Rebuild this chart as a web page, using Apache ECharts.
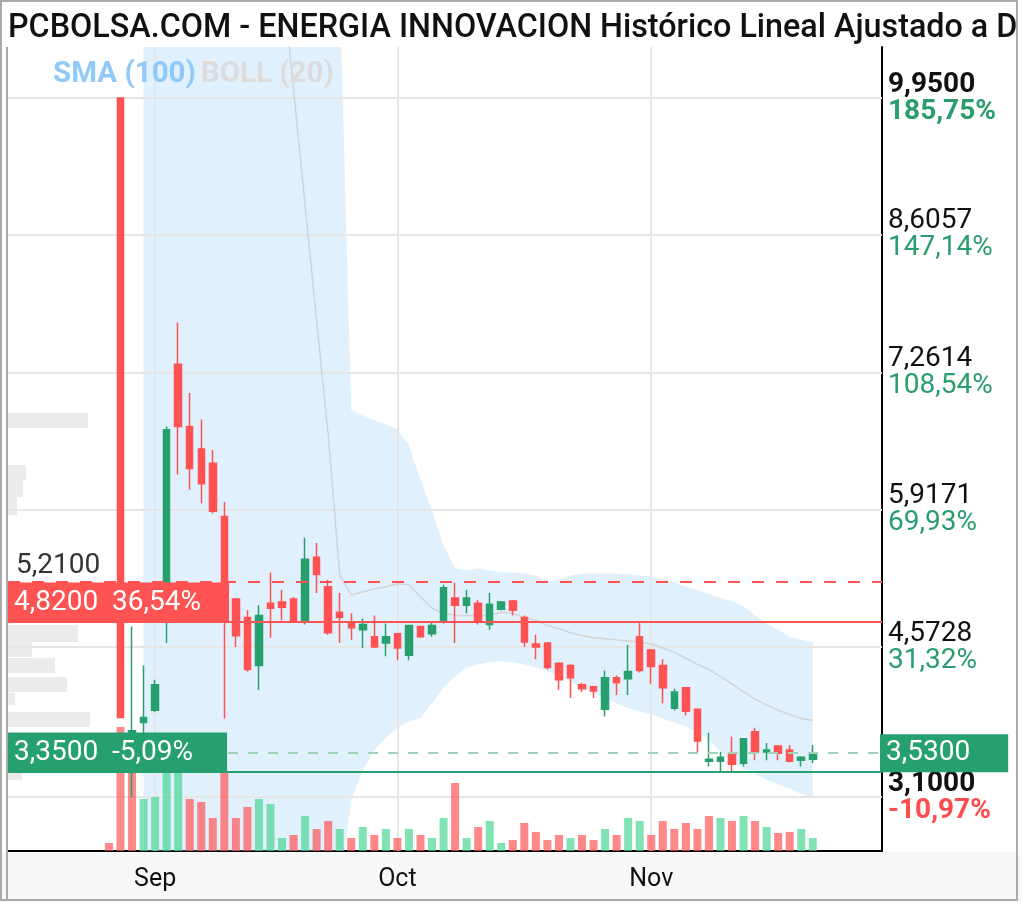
<!DOCTYPE html>
<html><head><meta charset="utf-8">
<script src="https://cdn.jsdelivr.net/npm/echarts@6/dist/echarts.min.js"></script>
<style>html,body{margin:0;padding:0;background:#fff}#c{width:1022px;height:904px}</style>
</head><body><div id="c"></div><script>
// ---------- DATA ----------
const dates = ['2023-08-28','2023-08-29','2023-08-30','2023-08-31','2023-09-01',
 '2023-09-04','2023-09-05','2023-09-06','2023-09-07','2023-09-08',
 '2023-09-11','2023-09-12','2023-09-13','2023-09-14','2023-09-15',
 '2023-09-18','2023-09-19','2023-09-20','2023-09-21','2023-09-22',
 '2023-09-25','2023-09-26','2023-09-27','2023-09-28','2023-09-29',
 '2023-10-02','2023-10-03','2023-10-04','2023-10-05','2023-10-06',
 '2023-10-09','2023-10-10','2023-10-11','2023-10-12','2023-10-13',
 '2023-10-16','2023-10-17','2023-10-18','2023-10-19','2023-10-20',
 '2023-10-23','2023-10-24','2023-10-25','2023-10-26','2023-10-27',
 '2023-10-30','2023-10-31','2023-11-01','2023-11-02','2023-11-03',
 '2023-11-06','2023-11-07','2023-11-08','2023-11-09','2023-11-10',
 '2023-11-13','2023-11-14','2023-11-15','2023-11-16','2023-11-17',
 '2023-11-20','2023-11-21'];
const openP  = [5.21,9.95,3.69,3.83,3.95, 4.90,7.34,6.73,6.51,6.37, 5.85,5.04,4.86,4.39,5.00, 5.01,5.04,4.83,5.45,5.16,
 4.91,4.80,4.74,4.67,4.61, 4.70,4.49,4.77,4.70,4.83, 5.05,4.98,5.00,4.79,4.94, 5.02,4.86,4.60,4.61,4.41,
 4.39,4.20,4.18,3.96,4.27, 4.26,4.67,4.54,4.39,3.97, 4.17,3.96,3.45,3.45,3.52, 3.43,3.74,3.54,3.60,3.56, 3.46,3.47];
const closeP = [4.82,3.88,3.75,3.88,4.20, 6.70,6.73,6.32,6.17,5.90, 4.93,4.68,4.35,4.88,4.95, 4.96,4.83,5.43,5.28,4.71,
 4.86,4.76,4.79,4.57,4.67, 4.56,4.78,4.67,4.78,5.15, 4.98,5.05,4.82,4.99,5.01, 4.93,4.62,4.57,4.37,4.25,
 4.27,4.16,4.14,4.27,4.22, 4.33,4.34,4.38,4.17,4.13, 3.94,3.65,3.47,3.49,3.42, 3.67,3.54,3.56,3.53,3.45, 3.49,3.53];
const lowP   = [4.82,3.88,3.10,3.71,3.93, 4.61,6.26,6.11,5.98,5.88, 3.87,4.57,4.33,4.15,4.66, 4.83,4.83,4.79,5.10,4.69,
 4.61,4.64,4.56,4.56,4.48, 4.44,4.44,4.66,4.67,4.80, 4.61,4.90,4.79,4.74,4.93, 4.88,4.57,4.45,4.35,4.15,
 4.07,4.13,4.07,3.89,4.10, 4.10,4.32,4.21,4.02,3.95, 3.90,3.54,3.40,3.34,3.35, 3.40,3.46,3.46,3.46,3.44, 3.40,3.43];
const highP  = [5.21,9.95,4.77,4.39,4.25, 6.73,7.75,7.06,6.80,6.50, 5.99,5.05,4.93,4.98,5.30, 5.13,5.06,5.64,5.59,5.23,
 5.10,4.90,4.85,4.88,4.80, 4.71,4.78,4.77,4.81,5.18, 5.20,5.13,5.03,5.10,5.02, 5.03,4.88,4.69,4.62,4.42,
 4.40,4.22,4.19,4.34,4.29, 4.59,4.82,4.55,4.45,4.16, 4.17,3.97,3.73,3.54,3.69, 3.67,3.78,3.63,3.61,3.61, 3.50,3.61];
// volume (thousands)
const volume = [8,124,91,52,54, 106,106,52,49,33, 79,33,44,52,47, 13,16,35,22,30,
 22,13,24,16,22, 13,22,16,13,33, 68,13,24,30,8, 11,28,19,11,16,
 13,16,11,22,16, 33,30,16,30,22, 28,22,35,33,30, 35,30,24,18,19, 22,13];
const volUp = [0,0,0,1,1, 1,1,0,0,0, 0,0,0,1,1, 1,0,1,0,0,
 1,0,1,0,1, 0,1,0,1,1, 0,1,0,1,1, 0,0,0,0,0,
 1,0,0,1,0, 1,1,0,0,0, 0,0,0,1,0, 1,0,1,0,0, 1,1];
// Bollinger (20)
const bollUpper = [null,null,null,12.5,13.5, 14.5,15.0,15.2,15.2,15.0, 14.8,14.6,14.4,14.2,14.0, 13.8,13.4,12.8,12.2,11.6,
 11.0,6.89,6.84,6.79,6.75, 6.70,6.55,6.21,5.91,5.57, 5.34,5.32,5.34,5.32,5.30, 5.30,5.29,5.27,5.21,5.23,
 5.27,5.29,5.29,5.29,5.29, 5.28,5.27,5.26,5.24,5.21, 5.16,5.13,5.09,5.05,5.02, 4.97,4.88,4.80,4.74,4.67, 4.64,4.62];
const bollMid = [null,null,null,null,null, null,null,null,null,null, null,null,null,null,null, 11.2,10.03,8.90,7.77,6.65,
 5.275,5.08,5.11,5.14,5.16, 5.19,5.18,5.06,4.95,4.90, 4.88,4.88,4.88,4.88,4.91, 4.90,4.86,4.83,4.78,4.75,
 4.71,4.68,4.66,4.65,4.64, 4.63,4.62,4.60,4.56,4.52, 4.46,4.40,4.35,4.28,4.21, 4.13,4.06,4.00,3.95,3.91, 3.87,3.85];
const bollLower = [null,null,null,1.0,1.0, 1.0,1.0,1.0,1.0,1.0, 1.0,1.0,1.0,1.0,1.0, 1.0,1.0,1.0,1.0,1.0,
 2.2,3.07,3.36,3.56,3.68, 3.78,3.84,3.87,4.02,4.17, 4.28,4.37,4.40,4.42,4.43, 4.42,4.40,4.37,4.33,4.29,
 4.23,4.17,4.12,4.06,4.02, 3.97,3.94,3.91,3.87,3.83, 3.79,3.74,3.66,3.54,3.44, 3.37,3.33,3.27,3.22,3.18, 3.13,3.10];
// volume-at-price profile
const profLow  = [6.716,6.206,6.040,5.863,4.619,4.472,4.315,4.129,4.000,3.786,3.266];
const profHigh = [6.863,6.353,6.206,6.040,4.786,4.619,4.462,4.276,4.120,3.933,3.335];
const profVol  = [80,18,15,9,70,24,47,59,7,82,14];
// axis ticks
const yTicks = [9.95,8.6057,7.2614,5.9171,4.5728,3.1];
const yTickLabels = ['9,9500','8,6057','7,2614','5,9171','4,5728','3,1000'];
const yTickPct = ['185,75%','147,14%','108,54%','69,93%','31,32%','-10,97%'];
const monthStarts = ['2023-09-01','2023-10-02','2023-11-01'];
const monthLabels = ['Sep','Oct','Nov'];
// price levels
const levelPrices = [5.21, 4.82, 3.53, 3.35];
const levelTexts  = ['5,2100', '4,8200  36,54%', '3,5300', '3,3500  -5,09%'];

// ---------- STYLE ----------
const UP = '#26a06e', DOWN = '#ff5252';
const FONT = 'Roboto';

const candleData = dates.map((d,i)=>[i, openP[i], closeP[i], lowP[i], highP[i]]);
const volData = volume.map((v,i)=>({value:[i,v], itemStyle:{color: volUp[i] ? 'rgba(70,214,145,0.68)' : 'rgba(255,80,80,0.68)'}}));
const midData=[];
dates.forEach((d,i)=>{ if (bollMid[i]!=null) midData.push([i,bollMid[i]]); });
const bandData = [];
dates.forEach((d,i)=>{ if (bollUpper[i]!=null) bandData.push([i, bollLower[i], bollUpper[i]]); });
const monthIdx = monthStarts.map(m=>dates.indexOf(m));

const tickLine = yTicks.map((v,i)=>{
  const bold = (i===0 || i===yTicks.length-1);
  const pctKey = yTickPct[i].startsWith('-') ? 'r' : 'g';
  return {yAxis:v, label:{show:true, position:'end', distance:6,
    formatter: '{'+(bold?'pb':'p')+'|'+yTickLabels[i]+'}\n{'+pctKey+(bold?'b':'')+'|'+yTickPct[i]+'}',
    rich:{
      p:{color:'#111',fontSize:28,lineHeight:27,fontFamily:FONT},
      pb:{color:'#111',fontSize:28,lineHeight:27,fontWeight:'bold',fontFamily:FONT},
      g:{color:'#2a9d6e',fontSize:28,lineHeight:27,fontFamily:FONT},
      gb:{color:'#2a9d6e',fontSize:28,lineHeight:27,fontWeight:'bold',fontFamily:FONT},
      rb:{color:'#ff4b4b',fontSize:28,lineHeight:27,fontWeight:'bold',fontFamily:FONT}
    }}};
});
const monthLine = monthIdx.map((ix,k)=>({xAxis:ix, label:{show:true, position:'start', distance:16,
  formatter: monthLabels[k], color:'#111', fontSize:25, fontFamily:FONT}}));

const levelLine = [
  {yAxis:levelPrices[0], lineStyle:{color:DOWN, type:[12,12], width:2},
   label:{show:true, position:'insideStartTop', distance:2, formatter:levelTexts[0], color:'#333', fontSize:28, fontFamily:FONT, padding:[0,0,0,6]}},
  {yAxis:levelPrices[1], lineStyle:{color:DOWN, type:'solid', width:2},
   label:{show:true, position:'insideStartTop', distance:0, formatter:levelTexts[1], color:'#fff', backgroundColor:DOWN, fontSize:28, fontFamily:FONT, padding:[6,28,5,6]}},
  {yAxis:levelPrices[2], lineStyle:{color:'#9fd4ba', type:[10,10], width:2},
   label:{show:true, position:'end', distance:-2, formatter:levelTexts[2], color:'#fff', backgroundColor:UP, fontSize:28, fontFamily:FONT, padding:[5,38,5,6]}},
  {yAxis:levelPrices[3], lineStyle:{color:UP, type:'solid', width:2},
   label:{show:true, position:'insideStartTop', distance:0, formatter:levelTexts[3], color:'#fff', backgroundColor:UP, fontSize:28, fontFamily:FONT, padding:[6,34,5,6]}}
];

const option = {
  animation:false,
  backgroundColor:'#fff',
  title:[
    {text:'PCBOLSA.COM - ENERGIA INNOVACION Histórico Lineal Ajustado a D', left:3, top:8,
     textStyle:{fontFamily:FONT, fontSize:32.3, fontWeight:500, color:'#111'}},
    {text:'{a|SMA (100)} {b|BOLL (20)}', left:48, top:55,
     textStyle:{rich:{a:{color:'#90caf9',fontSize:29.5,fontWeight:'bold',fontFamily:FONT},
                      b:{color:'#dcdcdc',fontSize:29.5,fontWeight:'bold',fontFamily:FONT}}}}
  ],
  grid:{left:8, top:47, width:874, height:804, containLabel:false},
  xAxis:[
    {type:'value', min:-8.75, max:67, axisLine:{show:true,onZero:false,lineStyle:{color:'#000',width:2}},
     axisTick:{show:false}, axisLabel:{show:false}, splitLine:{show:false}},
    {type:'value', min:0, max:874, show:false, splitLine:{show:false}}
  ],
  yAxis:[
    {type:'value', position:'right', min:2.571, max:10.45, axisLine:{show:true,onZero:false,lineStyle:{color:'#000',width:2}},
     axisTick:{show:false}, axisLabel:{show:false}, splitLine:{show:false}},
    {type:'value', min:0, max:804, show:false, splitLine:{show:false}}
  ],
  graphic:[
    {type:'rect', z:-10, shape:{x:0,y:852,width:1022,height:50}, style:{fill:'#f8f8f8'}, silent:true},
    {type:'line', z:100, shape:{x1:7,y1:47,x2:7,y2:900}, style:{stroke:'#aaa',lineWidth:2}, silent:true},
    {type:'rect', z:100, shape:{x:1,y:1,width:1016,height:899}, style:{fill:null,stroke:'#aaa',lineWidth:2}, silent:true}
  ],
  series:[
    {type:'custom', name:'profile', xAxisIndex:1, yAxisIndex:0, z:1, silent:true,
     data: profVol.map((v,i)=>[v, profLow[i], profHigh[i]]),
     encode:{x:0, y:[1,2]},
     renderItem:(params, api)=>{
       const p0 = api.coord([0, api.value(2)]);
       const p1 = api.coord([api.value(0), api.value(1)]);
       return {type:'rect', shape:{x:p0[0], y:p0[1], width:p1[0]-p0[0], height:p1[1]-p0[1]}, style:{fill:'#ebebeb'}};
     }},
    {type:'custom', name:'BOLL band', z:1, silent:true,
     data: bandData, encode:{x:0, y:[1,2]},
     renderItem:(params, api)=>{
       if (params.dataIndex !== 0) return null;
       const up = bandData.map(d=>api.coord([d[0], d[2]]));
       const lo = bandData.map(d=>api.coord([d[0], d[1]])).reverse();
       const cs = params.coordSys;
       return {type:'polygon', shape:{points: up.concat(lo)},
               style:{fill:'rgba(144,202,249,0.28)'},
               clipPath:{type:'rect', shape:{x:cs.x, y:cs.y, width:cs.width, height:cs.height}}};
     }},
    {type:'line', name:'grid', data:[], silent:true,
     markLine:{silent:true, symbol:['none','none'], z:2, animation:false,
       lineStyle:{color:'#e6e6e6', width:2, type:'solid'},
       data:[...tickLine, ...monthLine]}},
    {type:'line', name:'bollMid', data:midData, symbol:'none', z:3, silent:true,
     lineStyle:{color:'#d4d4d4', width:1.5}},
    {type:'bar', name:'volume', xAxisIndex:0, yAxisIndex:1, data:volData, barWidth:8, z:3, silent:true},
    {type:'candlestick', name:'price', data:candleData, encode:{x:0, y:[1,2,3,4]}, z:5, barWidth:7,
     itemStyle:{color:UP, color0:DOWN, borderColor:UP, borderColor0:DOWN, borderWidth:1.5}},
    {type:'line', name:'levels', data:[], silent:true,
     markLine:{silent:true, symbol:['none','none'], z:6, animation:false, data:levelLine}}
  ]
};
const chart = echarts.init(document.getElementById('c'), null, {renderer:'canvas'});
chart.setOption(option);
</script></body></html>
